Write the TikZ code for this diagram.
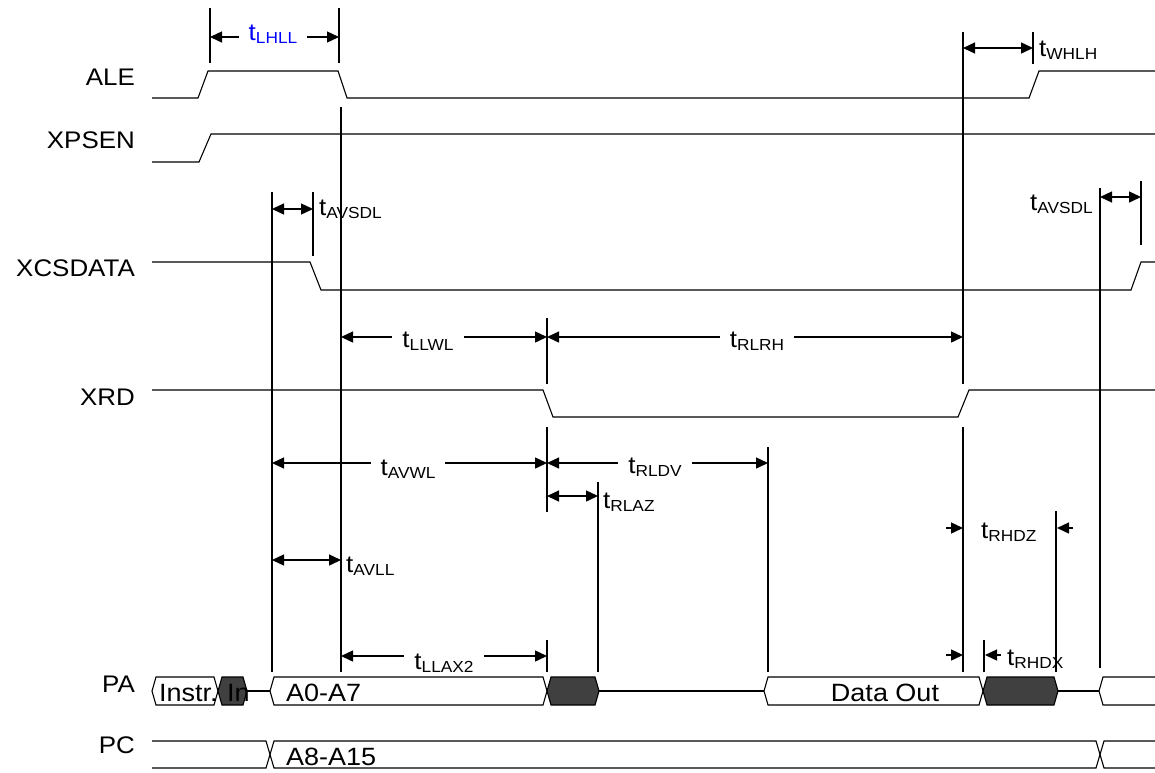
\documentclass[tikz,border=0pt]{standalone}
\usepackage{fontspec}
\setmainfont{Liberation Sans}[FakeStretch=1.08]
\usepackage{tikz}
\usetikzlibrary{arrows.meta}
\definecolor{tdblue}{RGB}{0,0,255}
\definecolor{tddark}{RGB}{64,64,64}
\newcommand{\tlab}[1]{t{\fontsize{16}{16}\selectfont\raisebox{-3pt}{#1}}}

\begin{document}
\begin{tikzpicture}[
  x=1pt, y=-1pt,
  >={Triangle[length=12pt,width=11pt]},
  every node/.style={font=\fontsize{24}{24}\selectfont, inner sep=0pt},
  sig/.style={line width=1.1pt, line join=miter},
  bus/.style={draw, line width=1.1pt, fill=white},
  busz/.style={draw, line width=1.1pt, fill=tddark},
  refl/.style={line width=2.2pt},
  tickln/.style={line width=1.5pt},
  dim/.style={line width=1.4pt, <->},
  lone/.style={line width=1.4pt, ->},
  signame/.style={anchor=base east},
  tgap/.style={anchor=base, fill=white, inner xsep=10pt, inner ysep=1pt},
  tside/.style={anchor=base west},
  bustext/.style={anchor=base west, font=\fontsize{25}{25}\selectfont}
]
\useasboundingbox (0,0) rectangle (1155,772);

%% ── SIGNAL NAMES ────────────────────────────────────────────────
\node[signame] (ale)  at (135,85)  {ALE};
\node[signame] (psen) at (135,148) {XPSEN};
\node[signame] (csd)  at (135,276) {XCSDATA};
\node[signame] (xrd)  at (135,405) {XRD};
\node[signame] (pa)   at (135,692) {PA};
\node[signame] (pc)   at (135,753) {PC};

%% ── WAVEFORMS ───────────────────────────────────────────────────
\draw[sig] (152,98) -- (198,98) -- (208,71) -- (338,71) -- (347,98)
  -- (1029,98) -- (1039,71) -- (1155,71);
\draw[sig] (152,162) -- (199,162) -- (211,134) -- (1155,134);
\draw[sig] (152,262) -- (310,262) -- (321,290) -- (1131,290)
  -- (1141,262) -- (1155,262);
\draw[sig] (152,390) -- (543,390) -- (553,417) -- (958,417)
  -- (969,390) -- (1155,390);

%% ── PA BUS ──────────────────────────────────────────────────────
\draw[bus] (156,677) -- (214,677) -- (218,691) -- (214,705)
  -- (156,705) -- (152,691) -- cycle;
\draw[busz] (218,691) -- (222,677) -- (243,677) -- (247,691)
  -- (243,705) -- (222,705) -- cycle;
\draw[sig] (247,691) -- (270,691);
\draw[bus] (270,691) -- (274,677) -- (543,677) -- (547,691)
  -- (543,705) -- (274,705) -- cycle;
\draw[busz] (547,691) -- (551,677) -- (595,677) -- (599,691)
  -- (595,705) -- (551,705) -- cycle;
\draw[sig] (599,691) -- (764,691);
\draw[bus] (764,691) -- (768,677) -- (979,677) -- (983,691)
  -- (979,705) -- (768,705) -- cycle;
\draw[busz] (983,691) -- (987,677) -- (1054,677) -- (1058,691)
  -- (1054,705) -- (987,705) -- cycle;
\draw[sig] (1058,691) -- (1099,691);
\draw[sig] (1155,677) -- (1103,677) -- (1099,691) -- (1103,705) -- (1155,705);

\node[bustext] (instr) at (159,701) {Instr.};
\node[bustext] (inop)  at (227,701) {In};
\node[bustext] (alo)   at (286,701) {A0-A7};
\node[bustext, anchor=base] (dout) at (885,701) {Data Out};

%% ── PC BUS ──────────────────────────────────────────────────────
\draw[sig] (152,741) -- (266,741) -- (274,768) -- (1096,768)
  -- (1104,741) -- (1155,741);
\draw[sig] (152,768) -- (266,768) -- (274,741) -- (1096,741)
  -- (1104,768) -- (1155,768);
\node[bustext] (ahi) at (286,765) {A8-A15};

%% ── REFERENCE LINES ─────────────────────────────────────────────
\draw[tickln] (210,8) -- (210,63);
\draw[tickln] (339,8) -- (339,63);
\draw[refl] (341,107) -- (341,672);
\draw[refl] (272,192) -- (272,672);
\draw[tickln] (313,192) -- (313,256);
\draw[refl] (547,318) -- (547,384);
\draw[refl] (547,427) -- (547,512);
\draw[refl] (547,640) -- (547,672);
\draw[refl] (963,32) -- (963,384);
\draw[refl] (963,427) -- (963,672);
\draw[tickln] (1033,32) -- (1033,64);
\draw[refl] (1100,188) -- (1100,668);
\draw[refl] (1141,181) -- (1141,245);
\draw[tickln] (598,482) -- (598,672);
\draw[tickln] (768,447) -- (768,672);
\draw[tickln] (1056,511) -- (1056,672);
\draw[tickln] (984,640) -- (984,672);

%% ── TIMING PARAMETERS ───────────────────────────────────────────
\draw[dim] (210,37) -- (339,37);
\node[tgap, text=tdblue] (lhll) at (273,40) {\tlab{LHLL}};

\draw[dim] (963,48) -- (1033,48);
\node[tside] (whlh) at (1039,56) {\tlab{WHLH}};

\draw[dim] (272,209) -- (313,209);
\node[tside] (avsdla) at (319,215) {\tlab{AVSDL}};

\draw[dim] (1100,197) -- (1141,197);
\node[tside, anchor=base east] (avsdlb) at (1093,210) {\tlab{AVSDL}};

\draw[dim] (341,337) -- (547,337);
\node[tgap] (llwl) at (428,347) {\tlab{LLWL}};

\draw[dim] (547,337) -- (963,337);
\node[tgap] (rlrh) at (757,347) {\tlab{RLRH}};

\draw[dim] (272,463) -- (547,463);
\node[tgap] (avwl) at (408,475) {\tlab{AVWL}};

\draw[dim] (547,463) -- (768,463);
\node[tgap] (rldv) at (655,473) {\tlab{RLDV}};

\draw[dim] (547,496) -- (598,496);
\node[tside] (rlaz) at (603,508) {\tlab{RLAZ}};

\draw[dim] (272,560) -- (341,560);
\node[tside] (avll) at (346,572) {\tlab{AVLL}};

\draw[dim] (341,656) -- (547,656);
\node[tgap] (llax) at (444,669) {\tlab{LLAX2}};

\draw[lone] (946,528) -- (963,528);
\draw[lone] (1073,528) -- (1057,528);
\node[tside] (rhdz) at (981,538) {\tlab{RHDZ}};

\draw[lone] (946,655) -- (963,655);
\draw[lone] (1001,655) -- (985,655);
\node[tside] (rhdx) at (1007,665) {\tlab{RHDX}};

\end{tikzpicture}
\end{document}
